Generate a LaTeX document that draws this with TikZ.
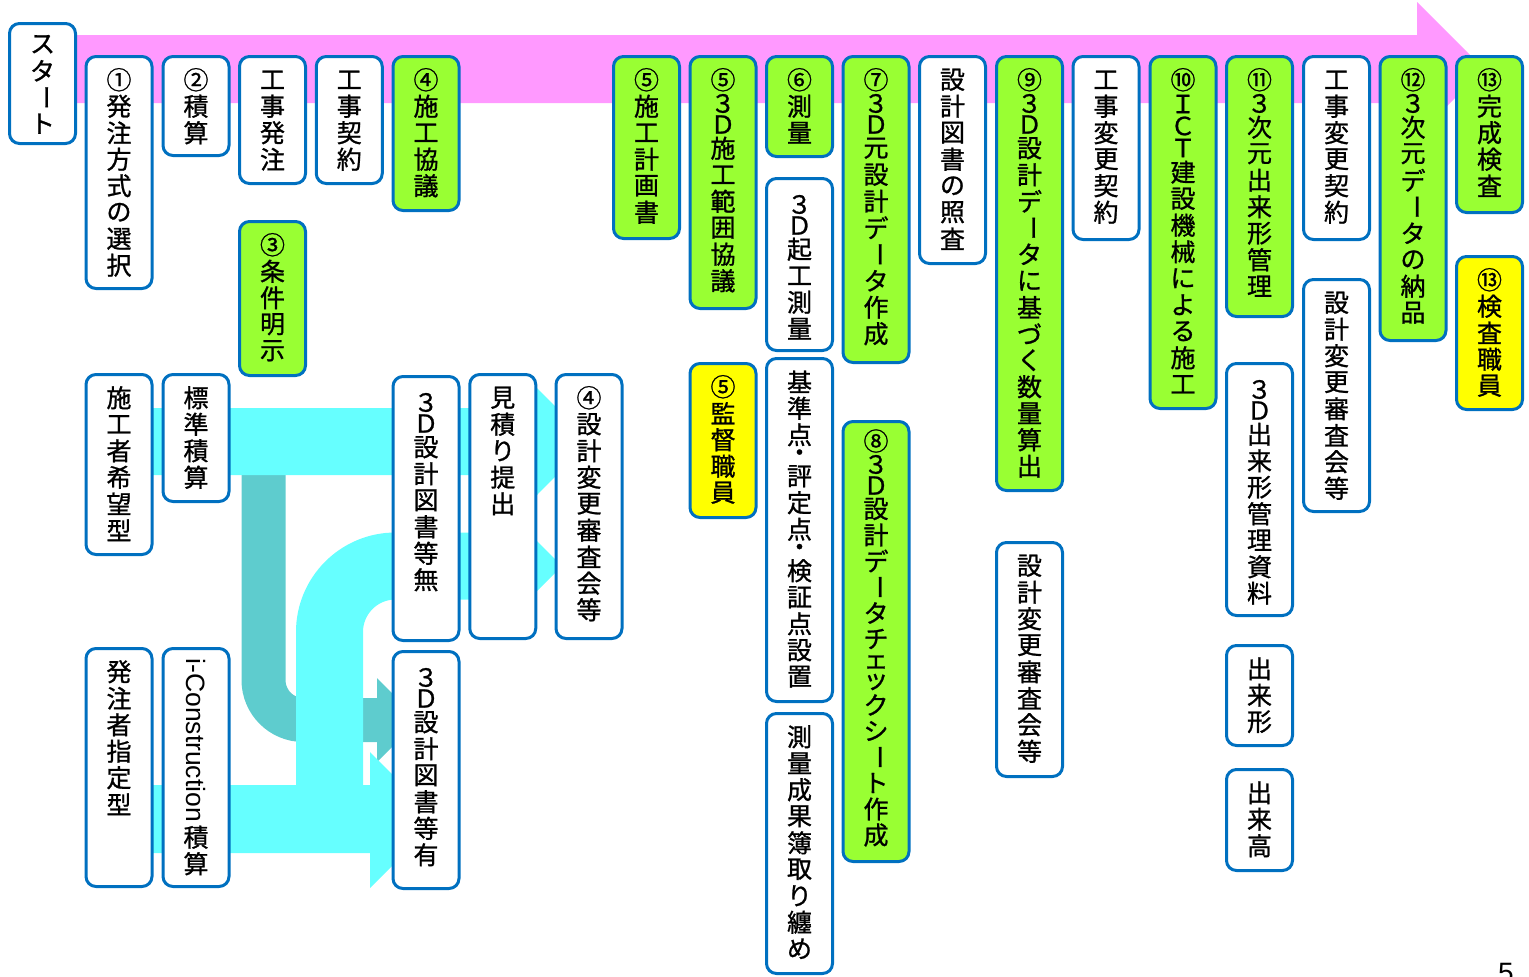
\documentclass[tikz,border=0pt]{standalone}
\usepackage{fontspec}
\usepackage{graphicx}
\setmainfont{Noto Sans CJK JP}[RawFeature={embolden=1}]
\newfontfamily\latinfont{Liberation Sans}
\definecolor{boxblue}{RGB}{0,112,192}
\definecolor{flowgreen}{RGB}{153,255,51}
\definecolor{flowyellow}{RGB}{255,255,0}
\definecolor{flowpink}{RGB}{255,153,255}
\definecolor{flowcyan}{RGB}{102,255,255}
\definecolor{flowteal}{RGB}{94,204,206}
% one character per cell, stacked top to bottom
\def\tatestop{\tatestop}
\def\tatepitch{26.5pt}
\newcommand{\tatecell}[2]{\vbox to #1{\vss\hbox to 30pt{\hss#2\hss}\vss}}
\newcommand{\tateitem}[1]{\ifcat\noexpand#1\relax#1\else\tatecell{\tatepitch}{#1}\fi}
\newcommand{\tate}[1]{\vtop{\offinterlineskip\tatenext#1\tatestop}}
\def\tatenext#1{\ifx\tatestop#1\else\tateitem#1\expandafter\tatenext\fi}
\newcommand{\bou}{\tatecell{\tatepitch}{\rotatebox[origin=c]{-90}{ー}}}
\newcommand{\naka}{\tatecell{15pt}{・}}
\newcommand{\san}{\tatecell{21pt}{３}}
\newcommand{\sanD}{\san\tatecell{21pt}{Ｄ}}
\newcommand{\ICT}{\tatecell{22pt}{Ｉ}\tatecell{22pt}{Ｃ}\tatecell{22pt}{Ｔ}}
\newcommand{\ye}{\tatecell{20pt}{ェ}}
\newcommand{\ttu}{\tatecell{20pt}{ッ}}
\newcommand{\icon}{\vtop{\hbox to 30pt{\hss\rotatebox{-90}{\latinfont\fontsize{26.5pt}{26.5pt}\selectfont i-Construction}\hss}\kern2pt}}
\tikzset{
  box/.style={draw=boxblue,line width=3pt,rounded corners=10pt,fill=white,
    minimum width=66pt,inner sep=0pt,text height=36.5pt,
    font=\fontsize{25pt}{25pt}\selectfont},
}
% [options]{name}{x}{top}{bottom}{text}
\newcommand{\tbox}[6][]{%
  \pgfmathsetmacro{\tbdep}{#5-#4-39.5}%
  \node[box,text depth=\tbdep pt,#1,anchor=north] (#2) at (#3,#4) {\tate{#6}};}

\begin{document}
\begin{tikzpicture}[x=1pt,y=-1pt]
  \useasboundingbox (0,0) rectangle (1529,977);
  % main flow
  \fill[flowpink] (60,35) -- (1417,35) -- (1417,2) -- (1484,69) -- (1417,136)
       -- (1417,103) -- (60,103) -- cycle;
  % routes of the estimate
  \draw[flowteal,line width=44pt,rounded corners=40pt] (263.5,450) -- (263.5,720) -- (380,720);
  \fill[flowteal] (377,678) -- (419,720) -- (377,762) -- cycle;
  \fill[flowcyan] (120,408) -- (537,408) -- (537,388) -- (590,441.5) -- (537,495)
       -- (537,475) -- (120,475) -- cycle;
  \fill[flowcyan] (120,785) -- (370,785) -- (370,752) -- (438,820) -- (370,888)
       -- (370,853) -- (120,853) -- cycle;
  \draw[flowcyan,line width=67pt,rounded corners=66pt] (329.5,819) -- (329.5,566) -- (512,566);
  \fill[flowcyan] (509,513) -- (562,566) -- (509,619) -- cycle;

  \node[box,text height=34pt,text depth=86pt,anchor=north] (start) at (42.5,22) {\tate{スタ\bou ト}};
  % ordering and contract
  \tbox{hachu}{119}{55}{290}{①発注方式の選択}
  \tbox{sekisan}{196}{55}{157}{②積算}
  \tbox{kojihachu}{272.5}{55}{185}{工事発注}
  \tbox{kojikeiyaku}{349.25}{55}{185}{工事契約}
  \tbox[fill=flowgreen]{kyogi}{426}{55}{212}{④施工協議}
  \tbox[fill=flowgreen]{joken}{272.5}{220}{377}{③条件明示}
  \tbox{kibou}{119}{373}{556}{施工者希望型}
  \tbox{hyojun}{196}{373}{503}{標準積算}
  \tbox{shitei}{119}{647}{888}{発注者指定型}
  \node[box,text height=10pt,text depth=228pt,anchor=north] (icon) at (196,647) {\tate{\icon 積算}};
  \tbox{zumen}{426}{375}{642}{\sanD 設計図書等無}
  \tbox{mitsumori}{502.75}{373}{640}{見積り提出}
  \tbox{shinsa}{589}{373}{640}{④設計変更審査会等}
  \tbox{zumenari}{426}{650}{890}{\sanD 設計図書等有}
  % construction
  \tbox[fill=flowgreen]{keikaku}{646.5}{55}{240}{⑤施工計画書}
  \tbox[fill=flowgreen]{hani}{723}{55}{310}{⑤\sanD 施工範囲協議}
  \tbox[fill=flowyellow]{kantoku}{723}{362}{519}{⑤監督職員}
  \tbox[fill=flowgreen]{sokuryo}{799.5}{55}{158}{⑥測量}
  \tbox{kiko}{799.5}{177}{352}{\sanD 起工測量}
  \tbox{kijun}{799.5}{357}{703}{基準点\naka 評定点\naka 検証点設置}
  \tbox{seika}{799.5}{712}{975}{測量成果簿取り纏め}
  \tbox[fill=flowgreen]{motodata}{876}{55}{364}{⑦\sanD 元設計デ\bou タ作成}
  \tbox[fill=flowgreen,text height=32.5pt,text depth=407.5pt,
        font=\fontsize{25pt}{25pt}\selectfont\def\tatepitch{26pt}]{check}{876}{420}{863}{⑧\sanD 設計デ\bou タチ\ye\ttu クシ\bou ト作成}
  \tbox{shosa}{952.5}{55}{265}{設計図書の照査}
  \tbox[fill=flowgreen]{suryo}{1029.5}{55}{492}{⑨\sanD 設計デ\bou タに基づく数量算出}
  \tbox{shinsab}{1029.5}{541}{778}{設計変更審査会等}
  \tbox{henkoa}{1106}{55}{241}{工事変更契約}
  \tbox[fill=flowgreen]{ict}{1183}{55}{410}{⑩\ICT 建設機械による施工}
  \tbox[fill=flowgreen]{dekigata}{1259.5}{55}{318}{⑪\san 次元出来形管理}
  \tbox{shiryo}{1259.5}{362}{617}{\sanD 出来形管理資料}
  \tbox{dekigatab}{1259.5}{644}{747}{出来形}
  \tbox{dekidaka}{1259.5}{768}{872}{出来高}
  \tbox{henkob}{1336.5}{55}{241}{工事変更契約}
  \tbox{shinsac}{1336.5}{278}{513}{設計変更審査会等}
  \tbox[fill=flowgreen]{nohin}{1413}{55}{342}{⑫\san 次元デ\bou タの納品}
  % inspection
  \tbox[fill=flowgreen]{kansei}{1489.5}{55}{214}{⑬完成検査}
  \tbox[fill=flowyellow]{kensa}{1489.5}{255}{411}{⑬検査職員}
  \node[font=\latinfont\fontsize{28pt}{28pt}\selectfont,anchor=base] (pagenum) at (1506,982) {5};
\end{tikzpicture}
\end{document}
